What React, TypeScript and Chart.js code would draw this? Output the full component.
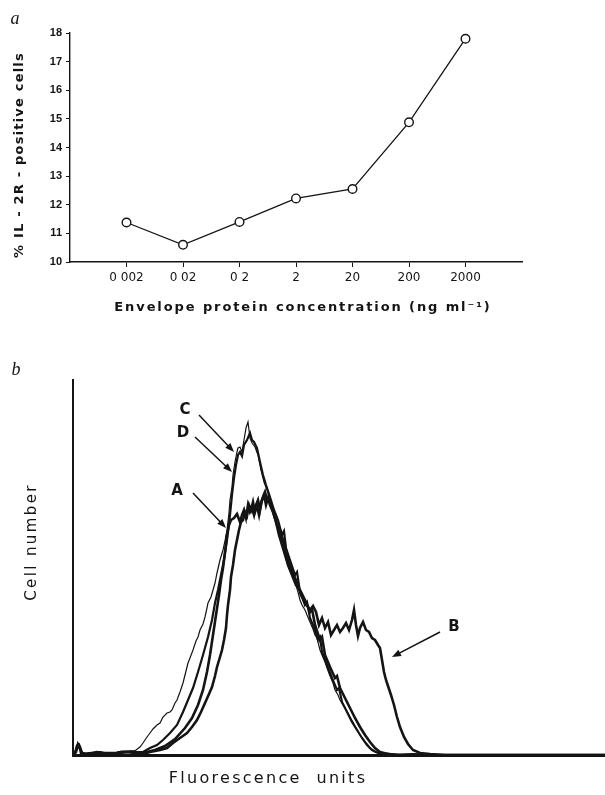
import React, { useEffect, useRef } from 'react';
import { Chart, registerables } from 'chart.js';

Chart.register(...registerables);

// ---------- Panel a data ----------
const concentrationLabels = ['0 002', '0 02', '0 2', '2', '20', '200', '2000'];
const il2rPositive = [11.38, 10.6, 11.4, 12.22, 12.55, 14.88, 17.8];

// ---------- Panel b data (fluorescence channel, cell number) ----------
const curveC: [number, number][] = [
  [0, 0], [2, 3], [4, 10], [6, 11], [8, 3], [11, 1], [17, 1], [22, 2], [27, 3], [31, 2], [37, 1], [43, 2], [48, 4], [53, 4], [58, 3], [63, 5],
  [67, 8], [70, 12], [74, 18], [77, 22], [80, 26], [84, 30], [87, 32], [90, 38], [94, 42], [97, 43], [99, 45], [102, 52], [104, 55], [107, 63],
  [110, 72], [112, 80], [115, 92], [117, 97], [120, 105], [123, 114], [125, 118], [127, 125], [130, 131], [132, 138], [134, 147], [135, 152],
  [138, 158], [140, 165], [142, 172], [144, 182], [147, 195], [150, 205], [152, 214], [154, 225], [156, 242], [157, 255], [159, 268], [160, 280],
  [162, 293], [164, 303], [165, 307], [167, 308], [169, 303], [171, 315], [173, 327], [175, 333], [177, 317], [179, 312], [182, 308], [185, 300],
  [188, 285], [191, 273], [194, 265], [197, 255], [199, 250], [201, 240], [203, 236], [205, 228], [207, 220], [209, 215], [211, 209], [213, 200],
  [215, 196], [217, 187], [219, 182], [222, 173], [225, 163], [227, 155], [229, 150], [232, 145], [234, 140], [237, 133], [240, 126], [242, 120],
  [244, 117], [247, 105], [249, 100], [252, 93], [254, 87], [257, 79], [260, 72], [262, 65], [265, 60], [267, 55], [270, 50], [272, 47],
  [275, 42], [277, 38], [280, 33], [282, 29], [285, 24], [287, 20], [290, 16], [292, 13], [295, 10], [297, 7], [300, 5], [302, 3], [306, 2],
  [309, 1], [315, 2], [327, 0], [340, 1], [360, 0], [532, 0],
];

const curveD: [number, number][] = [
  [0, 0], [3, 4], [5, 9], [7, 6], [9, 2], [14, 1], [20, 2], [26, 3], [32, 2], [40, 1], [46, 3], [52, 3], [58, 4], [64, 3], [70, 3],
  [77, 7], [84, 10], [90, 15], [97, 22], [104, 30], [110, 43], [115, 55], [120, 67], [125, 83], [130, 100], [135, 118], [139, 135],
  [142, 152], [145, 165], [148, 180], [151, 195], [154, 215], [157, 240], [159, 260], [161, 277], [163, 290], [165, 300], [167, 303],
  [169, 299], [171, 310], [174, 315], [177, 322], [179, 315], [181, 313], [184, 307], [187, 293], [190, 280], [193, 270], [197, 258],
  [201, 245], [205, 235], [209, 220], [211, 224], [213, 207], [217, 195], [222, 180], [224, 183], [227, 163], [232, 150], [234, 153],
  [237, 137], [241, 127], [245, 115], [247, 118], [249, 103], [254, 90], [259, 77], [264, 65], [266, 67], [269, 53], [274, 43],
  [279, 33], [284, 25], [289, 17], [294, 10], [299, 5], [305, 2], [317, 0], [340, 1], [360, 0], [532, 0],
];

const curveA: [number, number][] = [
  [0, 0], [2, 2], [4, 9], [6, 10], [8, 2], [12, 1], [18, 2], [25, 1], [32, 2], [40, 2], [47, 2], [55, 3], [62, 2], [70, 2],
  [82, 5], [92, 9], [102, 16], [112, 27], [119, 37], [125, 50], [130, 65], [134, 83], [137, 100], [140, 120], [143, 140], [146, 160],
  [148, 175], [150, 187], [152, 203], [154, 220], [156, 230], [158, 235], [161, 237], [164, 241], [167, 233], [169, 240], [171, 245],
  [173, 237], [175, 250], [177, 243], [179, 247], [181, 240], [183, 250], [185, 255], [187, 245], [189, 255], [191, 260], [193, 250],
  [195, 257], [197, 250], [200, 243], [203, 233], [206, 220], [209, 210], [212, 200], [215, 190], [219, 180], [223, 170], [227, 165],
  [232, 155], [237, 143], [239, 146], [242, 130], [247, 115], [249, 118], [252, 100], [257, 88], [262, 77], [264, 79], [267, 67],
  [272, 57], [277, 47], [282, 37], [287, 28], [292, 20], [297, 13], [302, 7], [307, 3], [315, 1], [327, 0], [532, 0],
];

const curveB: [number, number][] = [
  [0, 0], [3, 3], [5, 11], [7, 8], [9, 2], [13, 1], [19, 2], [24, 3], [30, 2], [36, 1], [44, 2], [50, 3], [56, 3], [62, 2], [70, 1],
  [77, 3], [87, 5], [94, 7], [100, 12], [107, 17], [114, 22], [119, 28], [124, 35], [128, 43], [132, 52], [136, 61], [139, 68],
  [142, 79], [144, 88], [147, 98], [149, 105], [151, 115], [153, 127], [154, 140], [155, 150], [157, 165], [158, 178], [160, 190],
  [162, 205], [164, 215], [166, 225], [168, 233], [170, 235], [172, 243], [174, 239], [176, 250], [178, 245], [180, 253], [182, 243],
  [184, 249], [186, 240], [188, 252], [190, 258], [192, 263], [194, 255], [196, 257], [198, 250], [201, 240], [204, 230], [207, 225],
  [210, 215], [213, 205], [216, 193], [219, 185], [222, 177], [225, 170], [228, 160], [231, 155], [234, 150], [237, 145], [240, 149],
  [243, 143], [246, 130], [249, 137], [252, 127], [255, 133], [258, 120], [261, 125], [264, 130], [267, 123], [270, 127], [273, 132],
  [276, 125], [279, 135], [281, 145], [283, 130], [285, 119], [287, 127], [290, 133], [293, 125], [296, 123], [299, 117], [302, 115],
  [305, 110], [307, 107], [309, 95], [311, 83], [313, 75], [315, 69], [318, 60], [321, 50], [324, 38], [327, 28], [331, 18], [335, 11],
  [340, 5], [347, 2], [357, 1], [372, 0], [532, 0],
];

// ---------- Panel b annotations (data coordinates) ----------
const noteLabels = ['C', 'D', 'A', 'B'];
const noteTextAt: [number, number][] = [[112, 345], [110, 322], [104, 264], [381, 128]];
const noteTail: [number, number][] = [[126, 340], [122, 318], [120, 262], [367, 123]];
const noteHead: [number, number][] = [[161, 303], [159, 283], [153, 227], [319, 98]];

const INK = '#141414';

function drawText(
  ctx: CanvasRenderingContext2D,
  text: string,
  x: number,
  y: number,
  font: string,
  spacing = 0,
  rotate = 0,
) {
  ctx.save();
  ctx.font = font;
  ctx.fillStyle = INK;
  (ctx as any).letterSpacing = `${spacing}px`;
  ctx.textAlign = 'center';
  ctx.textBaseline = 'middle';
  ctx.translate(x, y);
  if (rotate) ctx.rotate(rotate);
  ctx.fillText(text, 0, 0);
  ctx.restore();
}

function drawArrow(ctx: CanvasRenderingContext2D, x1: number, y1: number, x2: number, y2: number) {
  const ang = Math.atan2(y2 - y1, x2 - x1);
  const len = 9;
  const half = 3.5;
  ctx.save();
  ctx.strokeStyle = INK;
  ctx.fillStyle = INK;
  ctx.lineWidth = 1.5;
  ctx.beginPath();
  ctx.moveTo(x1, y1);
  ctx.lineTo(x2 - Math.cos(ang) * len * 0.8, y2 - Math.sin(ang) * len * 0.8);
  ctx.stroke();
  ctx.beginPath();
  ctx.moveTo(x2, y2);
  ctx.lineTo(x2 - Math.cos(ang) * len + Math.sin(ang) * half, y2 - Math.sin(ang) * len - Math.cos(ang) * half);
  ctx.lineTo(x2 - Math.cos(ang) * len - Math.sin(ang) * half, y2 - Math.sin(ang) * len + Math.cos(ang) * half);
  ctx.closePath();
  ctx.fill();
  ctx.restore();
}

const panelATextPlugin = {
  id: 'panelAText',
  afterDraw(chart: any) {
    const ctx = chart.ctx as CanvasRenderingContext2D;
    drawText(ctx, 'a', 15, 19, 'italic 18px "Liberation Serif"');
    drawText(ctx, '% IL - 2R - positive cells', 20, 155, 'bold 13px "DejaVu Sans"', 1.2, -Math.PI / 2);
    drawText(ctx, 'Envelope protein concentration (ng ml⁻¹)', 303, 308, 'bold 13px "DejaVu Sans"', 1.9);
  },
};

const panelBTextPlugin = {
  id: 'panelBText',
  afterDraw(chart: any) {
    const ctx = chart.ctx as CanvasRenderingContext2D;
    const xs = chart.scales.x;
    const ys = chart.scales.y;
    drawText(ctx, 'b', 16, 30, 'italic 18px "Liberation Serif"');
    drawText(ctx, 'Cell number', 32, 202, '15px "DejaVu Sans"', 2.4, -Math.PI / 2);
    drawText(ctx, 'Fluorescence  units', 268, 439, '16px "DejaVu Sans"', 2.3);
    noteLabels.forEach((label, i) => {
      drawText(
        ctx,
        label,
        xs.getPixelForValue(noteTextAt[i][0]),
        ys.getPixelForValue(noteTextAt[i][1]),
        'bold 15px "DejaVu Sans"',
      );
      drawArrow(
        ctx,
        xs.getPixelForValue(noteTail[i][0]),
        ys.getPixelForValue(noteTail[i][1]),
        xs.getPixelForValue(noteHead[i][0]),
        ys.getPixelForValue(noteHead[i][1]),
      );
    });
  },
};

function toPoints(arr: [number, number][]) {
  return arr.map(([x, y]) => ({ x, y }));
}

export default function App() {
  const refA = useRef<HTMLCanvasElement | null>(null);
  const refB = useRef<HTMLCanvasElement | null>(null);

  useEffect(() => {
    if (!refA.current || !refB.current) return;

    const chartA = new Chart(refA.current, {
      type: 'line',
      data: {
        datasets: [
          {
            data: il2rPositive.map((y, i) => ({ x: i + 1, y })),
            borderColor: INK,
            borderWidth: 1.3,
            pointRadius: 4.3,
            pointBackgroundColor: '#ffffff',
            pointBorderColor: INK,
            pointBorderWidth: 1.4,
            tension: 0,
          },
        ],
      },
      options: {
        animation: false,
        responsive: false,
        events: [],
        layout: { padding: { left: 0, right: 83, top: 33, bottom: 0 } },
        plugins: { legend: { display: false }, tooltip: { enabled: false } },
        scales: {
          x: {
            type: 'linear',
            min: 0,
            max: 8,
            afterBuildTicks: (s: any) => {
              s.ticks = concentrationLabels.map((_, i) => ({ value: i + 1 }));
            },
            afterFit: (s: any) => {
              s.height = 73;
            },
            ticks: {
              callback: (_v: any, i: number) => concentrationLabels[i] ?? '',
              autoSkip: false,
              maxRotation: 0,
              padding: 4,
              color: INK,
              font: { family: '"DejaVu Sans"', size: 12 },
            },
            grid: { display: true, drawOnChartArea: false, drawTicks: true, tickLength: 5, color: INK, lineWidth: 1 },
            border: { display: true, color: INK, width: 1.6 },
          },
          y: {
            type: 'linear',
            min: 10,
            max: 18,
            afterFit: (s: any) => {
              s.width = 70;
            },
            ticks: {
              stepSize: 1,
              padding: 4,
              color: INK,
              font: { family: '"Liberation Sans"', size: 11, weight: 'bold' },
            },
            grid: { display: true, drawOnChartArea: false, drawTicks: true, tickLength: 4, color: INK, lineWidth: 1 },
            border: { display: true, color: INK, width: 1.4 },
          },
        },
      },
      plugins: [panelATextPlugin],
    } as any);

    const curveStyle = (data: [number, number][], width: number) => ({
      data: toPoints(data),
      borderColor: INK,
      borderWidth: width,
      pointRadius: 0,
      tension: 0,
      fill: false,
    });

    const chartB = new Chart(refB.current, {
      type: 'line',
      data: {
        datasets: [
          curveStyle(curveB, 2.6),
          curveStyle(curveA, 2.6),
          curveStyle(curveD, 2.2),
          curveStyle(curveC, 1.2),
        ],
      },
      options: {
        animation: false,
        responsive: false,
        events: [],
        layout: { padding: { left: 0, right: 0, top: 40, bottom: 0 } },
        plugins: { legend: { display: false }, tooltip: { enabled: false } },
        scales: {
          x: {
            type: 'linear',
            min: 0,
            max: 532,
            afterFit: (s: any) => {
              s.height = 40;
            },
            ticks: { display: false },
            grid: { display: false },
            border: { display: true, color: INK, width: 3 },
          },
          y: {
            type: 'linear',
            min: 0,
            max: 375,
            afterFit: (s: any) => {
              s.width = 73;
            },
            ticks: { display: false },
            grid: { display: false },
            border: { display: true, color: INK, width: 2 },
          },
        },
      },
      plugins: [panelBTextPlugin],
    } as any);

    return () => {
      chartA.destroy();
      chartB.destroy();
    };
  }, []);

  return (
    <div style={{ position: 'absolute', left: 0, top: 0, width: 605, height: 795, background: '#ffffff' }}>
      <canvas
        ref={refA}
        width={605}
        height={335}
        style={{ position: 'absolute', left: 0, top: 0, width: 605, height: 335, display: 'block' }}
      />
      <canvas
        ref={refB}
        width={605}
        height={455}
        style={{ position: 'absolute', left: 0, top: 340, width: 605, height: 455, display: 'block' }}
      />
    </div>
  );
}
